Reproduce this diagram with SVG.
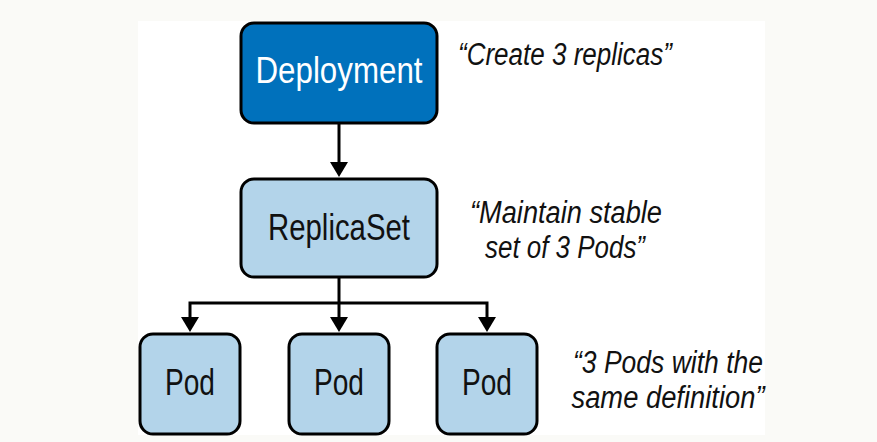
<svg xmlns="http://www.w3.org/2000/svg" width="877" height="442" viewBox="0 0 877 442">
<defs>
<style>
.box{stroke:#000;stroke-width:3}
.dep{fill:#0071bc}
.lt{fill:#b3d4ea}
.lbl{font-family:"Liberation Sans Narrow","Liberation Sans",sans-serif;font-size:36px;text-anchor:middle}
.note{font-family:"Liberation Sans Narrow","Liberation Sans",sans-serif;font-size:31px;font-style:italic;fill:#111;text-anchor:middle}
.conn{fill:none;stroke:#000;stroke-width:3}
.head{fill:#000}
</style>
</defs>
<rect x="0" y="0" width="877" height="442" fill="#fafaf7"/>
<rect x="138" y="21" width="627" height="414" fill="#fff"/>
<g id="connectors">
<path class="conn" d="M339,123 V166"/>
<path class="head" d="M330,162 L348,162 L339,177 Z"/>
<path class="conn" d="M339,277 V320"/>
<path class="conn" d="M190,320 V303 H487 V320"/>
<path class="head" d="M181,317 L199,317 L190,332 Z"/>
<path class="head" d="M330,317 L348,317 L339,332 Z"/>
<path class="head" d="M478,317 L496,317 L487,332 Z"/>
</g>
<g id="deployment">
<rect class="box dep" x="241" y="23" width="196" height="100" rx="13"/>
<text class="lbl" x="339" y="83" fill="#fff" textLength="167" lengthAdjust="spacingAndGlyphs">Deployment</text>
</g>
<g id="replicaset">
<rect class="box lt" x="241" y="179" width="196" height="98" rx="13"/>
<text class="lbl" x="339" y="240" fill="#111" textLength="142" lengthAdjust="spacingAndGlyphs">ReplicaSet</text>
</g>
<g id="pod1">
<rect class="box lt" x="140" y="334" width="100" height="100" rx="13"/>
<text class="lbl" x="190" y="395" fill="#111" textLength="50" lengthAdjust="spacingAndGlyphs">Pod</text>
</g>
<g id="pod2">
<rect class="box lt" x="289" y="334" width="100" height="100" rx="13"/>
<text class="lbl" x="339" y="395" fill="#111" textLength="50" lengthAdjust="spacingAndGlyphs">Pod</text>
</g>
<g id="pod3">
<rect class="box lt" x="437" y="334" width="100" height="100" rx="13"/>
<text class="lbl" x="487" y="395" fill="#111" textLength="50" lengthAdjust="spacingAndGlyphs">Pod</text>
</g>
<g id="notes">
<text class="note" x="565" y="65" textLength="214" lengthAdjust="spacingAndGlyphs">“Create 3 replicas”</text>
<text class="note" x="566" y="223" textLength="192" lengthAdjust="spacingAndGlyphs">“Maintain stable</text>
<text class="note" x="565" y="258" textLength="160" lengthAdjust="spacingAndGlyphs">set of 3 Pods”</text>
<text class="note" x="668" y="373" textLength="190" lengthAdjust="spacingAndGlyphs">“3 Pods with the</text>
<text class="note" x="668" y="408" textLength="193" lengthAdjust="spacingAndGlyphs">same definition”</text>
</g>
</svg>
